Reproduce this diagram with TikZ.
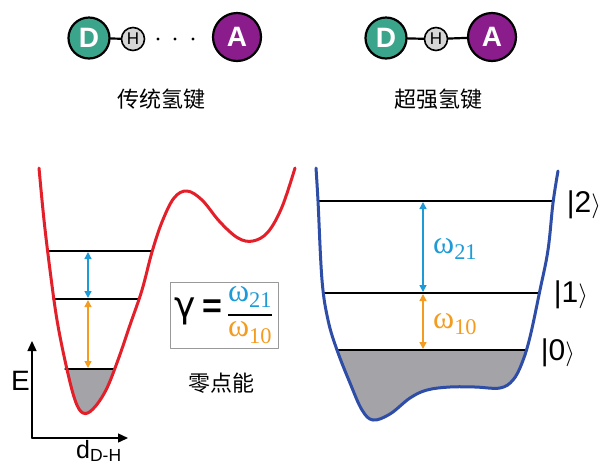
\documentclass[tikz,border=0pt]{standalone}
\usepackage{fontspec}
\usepackage{amsmath}
\setmainfont{Liberation Sans}
\newfontfamily\cjk{Noto Sans CJK SC}
\newfontfamily\greek{Liberation Serif}
\newfontfamily\symb{DejaVu Sans}
\usetikzlibrary{arrows.meta,positioning}

\definecolor{donor}{HTML}{3BA58C}
\definecolor{acceptor}{HTML}{8B1C8C}
\definecolor{hgray}{HTML}{D6D6D6}
\definecolor{redwell}{HTML}{E3202A}
\definecolor{bluewell}{HTML}{2E4DA7}
\definecolor{wellfill}{HTML}{A3A3A8}
\definecolor{wblue}{HTML}{1E9BD7}
\definecolor{worange}{HTML}{F39C1F}

\newcommand{\omlab}[2]{\textcolor{#1}{{\greek ω}\textsubscript{\greek #2}}}

\begin{document}
\begin{tikzpicture}[x=1pt,y=-1pt,line cap=round,line join=round,
  atom/.style={circle,draw=black,line width=2.2pt,text=white,inner sep=0pt,
    font=\bfseries\fontsize{28}{28}\selectfont},
  hatom/.style={circle,draw=black,line width=1.6pt,fill=hgray,inner sep=0pt,
    minimum size=23pt,font=\fontsize{17}{17}\selectfont},
  bond/.style={line width=2.2pt},
  dot/.style={circle,fill=black,inner sep=1.2pt},
  level/.style={line width=1.3pt},
  gap/.style={line width=1.4pt,{Triangle[length=7pt,width=7pt]}-{Triangle[length=7pt,width=7pt]}},
  axis/.style={line width=1.4pt,-{Triangle[length=10pt,width=9pt]}},
  caption/.style={font=\cjk\fontsize{22}{22}\selectfont},
  ket/.style={font=\fontsize{30}{30}\selectfont,inner sep=0pt},
  omega/.style={font=\fontsize{32}{32}\selectfont,anchor=west,inner sep=0pt}]

\useasboundingbox (0,0) rectangle (608,467);

% Conventional hydrogen bond.
\node[atom,fill=donor,minimum size=41pt] (dL) at (89,38) {D};
\node[hatom] (hL) at (133,39) {H};
\node[atom,fill=acceptor,minimum size=48pt] (aL) at (237,37) {A};
\foreach \xx [count=\i] in {158,175,193}
  \node[dot] (dotL\i) at (\xx,39) {};
\draw[bond] (dL) -- (hL);
\node[caption] (capL) at (161,99) {传统氢键};

% Very strong hydrogen bond.
\node[atom,fill=donor,minimum size=41pt] (dR) at (386,38) {D};
\node[hatom] (hR) at (436,39) {H};
\node[atom,fill=acceptor,minimum size=48pt] (aR) at (492,37) {A};
\draw[bond] (dR) -- (hR) (hR) -- (aR);
\node[caption] (capR) at (438,99) {超强氢键};

% Left: double-well potential.
\def\redcurve{plot[smooth,tension=0.6] coordinates {(39,168) (44,220) (50,270)
  (57,320) (66,365) (75,400) (83,413) (93,409) (106,390) (118,360) (130,325)
  (142,290) (152,252) (162,222) (174,198) (187,191) (202,200) (220,222)
  (238,238) (253,241) (268,232) (282,207) (295,168)}}
\begin{scope}
  \clip (0,369) rectangle (200,440);
  \fill[wellfill] \redcurve -- cycle;
\end{scope}
\draw[level] (48,251) -- (152,251);
\draw[level] (53,299) -- (138,299);
\draw[level] (65,369) -- (114,369);
\draw[redwell,line width=3pt] \redcurve;
\coordinate (lTop) at (88,251);
\coordinate (lMid) at (88,299);
\coordinate (lLow) at (88,369);
\draw[gap,wblue,shorten <=1pt,shorten >=1pt] (lTop) -- (lMid);
\draw[gap,worange,shorten <=1pt,shorten >=1pt] (lMid) -- (lLow);

% Axes.
\coordinate (orig) at (32,438);
\coordinate (eEnd) at (32,341);
\coordinate (dEnd) at (128,438);
\draw[axis] (orig) -- (eEnd);
\draw[axis] (orig) -- (dEnd);
\node[anchor=base west,inner sep=0pt,font=\fontsize{28}{28}\selectfont] (eLabel) at (11,390) {E};
\node[anchor=base west,inner sep=0pt,font=\fontsize{25}{25}\selectfont] (dLabel) at (76,458)
  {d\textsubscript{D-H}};

% Frequency ratio.
\node[draw=black!40,line width=1pt,minimum width=108pt,minimum height=66pt,inner sep=2pt]
  (ratio) at (224,315)
  {{\symb\fontsize{36}{36}\selectfont γ}\hspace{6pt}{\fontsize{34}{34}\selectfont\bfseries =}\hspace{5pt}$\genfrac{}{}{2pt}{0}{\mbox{\fontsize{32}{32}\selectfont\omlab{wblue}{21}}}{\mbox{\fontsize{32}{32}\selectfont\omlab{worange}{10}}}$};
\node[caption] (zpe) at (221,383) {零点能};

% Right: flat-bottomed well.
\def\bluecurve{plot[smooth,tension=0.6] coordinates {(316,168) (318,201)
  (322,280) (328,320) (337,350) (350,383) (362,410) (373,420) (390,414)
  (410,398) (427,390) (450,387) (475,387) (500,388) (513,380) (522,363)
  (530,337) (540,290) (548,250) (553,203) (558,171)}}
\begin{scope}
  \clip (300,350) rectangle (600,440);
  \fill[wellfill] \bluecurve -- cycle;
\end{scope}
\draw[level] (319,201) -- (553,201);
\draw[level] (323,293) -- (540,293);
\draw[level] (337,350) -- (525,350);
\draw[bluewell,line width=3pt] \bluecurve;
\coordinate (rTop) at (423,201);
\coordinate (rMid) at (423,293);
\coordinate (rLow) at (423,350);
\draw[gap,wblue,shorten <=1pt,shorten >=1pt] (rTop) -- (rMid);
\draw[gap,worange,shorten <=1pt,shorten >=1pt] (rMid) -- (rLow);
\node[omega] (w21) at (433,249) {\omlab{wblue}{21}};
\node[omega] (w10) at (433,324) {\omlab{worange}{10}};
\node[ket] (ket2) at (584,205) {|2$\rangle$};
\node[ket] (ket1) at (571,295) {|1$\rangle$};
\node[ket] (ket0) at (558,353) {|0$\rangle$};

\end{tikzpicture}
\end{document}
